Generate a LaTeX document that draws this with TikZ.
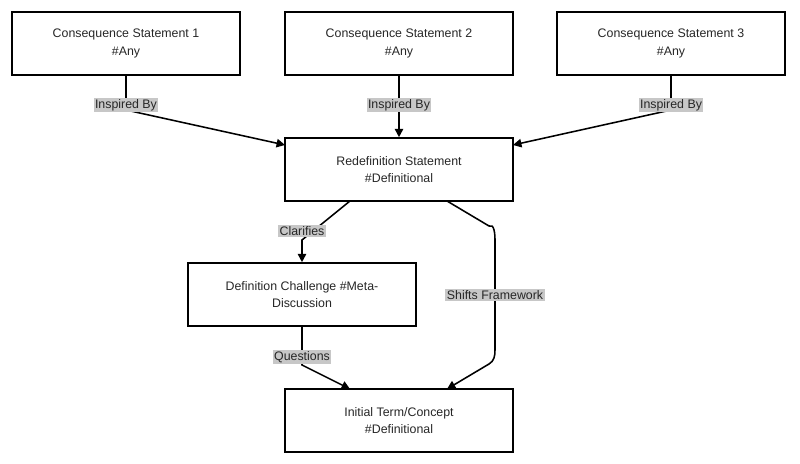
\documentclass[tikz,border=0pt]{standalone}
\usepackage{fontspec}
\setmainfont{Liberation Sans}
\usetikzlibrary{arrows.meta}
\begin{document}
\begin{tikzpicture}[x=0.025cm,y=-0.025cm]
	\tikzstyle{box} = [draw=black, line width=1.1pt, minimum width=5.7cm, minimum height=1.575cm, align=center, font=\fontsize{8.8}{12.5}\selectfont, text=black!85]
	\tikzstyle{lbl} = [fill=black!22, inner sep=1pt, font=\fontsize{8.8}{10}\selectfont, text=black!85]
	\tikzstyle{link} = [line width=1.1pt, -{Triangle[length=6pt,width=6pt]}]
	\useasboundingbox (0,0) rectangle (800,464);

	\node [box] (cs1) at (126,43.5) {Consequence Statement 1\\\#Any};
	\node [box] (cs2) at (399,43.5) {Consequence Statement 2\\\#Any};
	\node [box] (cs3) at (671,43.5) {Consequence Statement 3\\\#Any};
	\node [box] (redef) at (399,169.5) {Redefinition Statement\\\#Definitional};
	\node [box] (chal) at (302,294.5) {Definition Challenge \#Meta-\\Discussion};
	\node [box] (init) at (399,420.5) {Initial Term/Concept\\\#Definitional};

	\draw [link] (cs1.south) -- (126,110) -- (285,145);
	\draw [link] (cs2.south) -- (redef.north);
	\draw [link] (cs3.south) -- (671,110) -- (513,145);
	\draw [link] (350,201) -- (302,240) -- (chal.north);
	\draw [link] (447,201) -- (489,226) to[out=30,in=90] (495,240) -- (495,350) to[out=-90,in=30] (489,364) -- (447,389);
	\draw [link] (chal.south) -- (302,365) -- (350,389);

	\node [lbl] (l1) at (126,105) {Inspired By};
	\node [lbl] (l2) at (399,105) {Inspired By};
	\node [lbl] (l3) at (671,105) {Inspired By};
	\node [lbl] (l4) at (302,231) {Clarifies};
	\node [lbl] (l5) at (495,295) {Shifts Framework};
	\node [lbl] (l6) at (302,357) {Questions};
\end{tikzpicture}
\end{document}
